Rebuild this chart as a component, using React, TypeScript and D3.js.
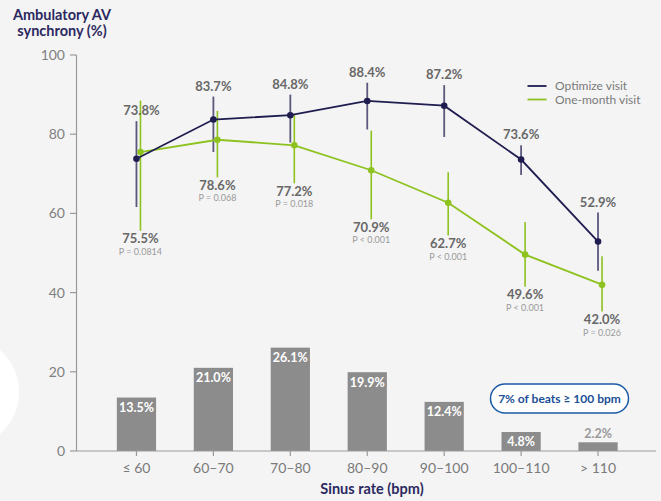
import * as d3 from 'd3'

const categories = ['≤ 60', '60–70', '70–80', '80–90', '90–100', '100–110', '> 110']
const optimize = [73.8, 83.7, 84.8, 88.4, 87.2, 73.6, 52.9]
const optimizeLow = [61.6, 75.5, 77.9, 81.2, 79.3, 69.7, 45.5]
const optimizeHigh = [83.3, 89.5, 90.0, 93.0, 92.4, 77.2, 60.2]
const oneMonth = [75.5, 78.6, 77.2, 70.9, 62.7, 49.6, 42.0]
const oneMonthLow = [55.6, 69.1, 67.6, 58.5, 54.4, 41.5, 35.2]
const oneMonthHigh = [88.5, 85.9, 85.1, 80.9, 70.4, 57.8, 49.2]
const pValues = ['P = 0.0814', 'P = 0.068', 'P = 0.018', 'P < 0.001', 'P < 0.001', 'P < 0.001', 'P = 0.026']
const beats = [13.5, 21.0, 26.1, 19.9, 12.4, 4.8, 2.2]
const yTicks = [0, 20, 40, 60, 80, 100]

const W = 661
const H = 501
const NAVY = '#1f1c4f'
const GREEN = '#8dc21f'
const FONT = 'Lato, "Noto Sans", sans-serif'

export default function App() {
  const axisLeft = 76.5
  const axisRight = 656

  const x = d3.scaleBand<string>()
    .domain(categories)
    .range([98, 636.5])
    .paddingInner(0.49)
    .paddingOuter(0.245)
  const y = d3.scaleLinear().domain([0, 100]).range([451, 55])

  const cx = (c: string) => (x(c) as number) + x.bandwidth() / 2
  const greenOff = 4

  const navyLine = d3.line<number>()
    .x((_, i) => cx(categories[i]))
    .y(d => y(d))
  const greenLine = d3.line<number>()
    .x((_, i) => cx(categories[i]) + greenOff)
    .y(d => y(d))

  return (
    <svg width={W} height={H} style={{ position: 'absolute', left: 0, top: 0, display: 'block' }}
      fontFamily={FONT}>
      <rect width={W} height={H} fill="#f4f4f4" />
      <circle cx={-37} cy={392} r={56} fill="#ffffff" />

      {/* titulo eixo y */}
      <text x={62} y={20} textAnchor="middle" fontSize={14.5} fontWeight={700} fill="#2b2960">Ambulatory AV</text>
      <text x={62} y={36} textAnchor="middle" fontSize={14.5} fontWeight={700} fill="#2b2960">synchrony (%)</text>

      {/* eixo y */}
      <line x1={axisLeft} x2={axisLeft} y1={y(100)} y2={y(0)} stroke="#9a9a9a" strokeWidth={1.2} />
      {yTicks.map(t => (
        <g key={t}>
          <line x1={70} x2={axisLeft} y1={y(t)} y2={y(t)} stroke="#9a9a9a" strokeWidth={1.2} />
          <text x={65} y={y(t)} dy="0.35em" textAnchor="end" fontSize={14} fill="#808080">{t}</text>
        </g>
      ))}

      {/* barras */}
      {beats.map((b, i) => {
        const c = categories[i]
        const top = y(b)
        const small = b < 3
        return (
          <g key={c}>
            <rect x={x(c)} y={top} width={x.bandwidth()} height={y(0) - top} fill="#8c8c8c" />
            <text x={cx(c)} y={small ? top - 4.5 : top + 14.5} textAnchor="middle" fontSize={12.5}
              fontWeight={700} fill={small ? '#9a9a9a' : '#ffffff'}>{b.toFixed(1)}%</text>
          </g>
        )
      })}

      {/* eixo x */}
      <line x1={axisLeft} x2={axisRight} y1={y(0)} y2={y(0)} stroke="#9a9a9a" strokeWidth={1.2} />
      {categories.map(c => (
        <g key={c}>
          <line x1={cx(c)} x2={cx(c)} y1={y(0)} y2={y(0) + 5} stroke="#9a9a9a" strokeWidth={1.2} />
          <text x={cx(c)} y={473} textAnchor="middle" fontSize={14} fill="#7a7a7a">{c}</text>
        </g>
      ))}
      <text x={372} y={494} textAnchor="middle" fontSize={14.5} fontWeight={700} fill="#2b2960">Sinus rate (bpm)</text>

      {/* barras de erro */}
      {categories.map((c, i) => (
        <g key={'err' + c}>
          <line x1={cx(c) + greenOff} x2={cx(c) + greenOff} y1={y(oneMonthHigh[i])} y2={y(oneMonthLow[i])}
            stroke={GREEN} strokeWidth={1.6} />
          <line x1={cx(c)} x2={cx(c)} y1={y(optimizeHigh[i])} y2={y(optimizeLow[i])}
            stroke={NAVY} strokeOpacity={0.72} strokeWidth={1.8} />
        </g>
      ))}

      {/* linhas */}
      <path d={greenLine(oneMonth) ?? ''} fill="none" stroke={GREEN} strokeWidth={1.8} />
      <path d={navyLine(optimize) ?? ''} fill="none" stroke={NAVY} strokeWidth={1.8} />
      {oneMonth.map((v, i) => (
        <circle key={'g' + i} cx={cx(categories[i]) + greenOff} cy={y(v)} r={3.3} fill={GREEN} />
      ))}
      {optimize.map((v, i) => (
        <circle key={'n' + i} cx={cx(categories[i])} cy={y(v)} r={3.3} fill={NAVY} />
      ))}

      {/* rótulos */}
      {optimize.map((v, i) => (
        <text key={'ln' + i} x={cx(categories[i]) + (i === 0 ? 5 : 0)} y={y(optimizeHigh[i]) - 6}
          textAnchor="middle" fontSize={13} fontWeight={700} fill="#686868">{v.toFixed(1)}%</text>
      ))}
      {oneMonth.map((v, i) => (
        <g key={'lg' + i}>
          <text x={cx(categories[i]) + greenOff} y={y(oneMonthLow[i]) + 12.5} textAnchor="middle"
            fontSize={13} fontWeight={700} fill="#686868">{v.toFixed(1)}%</text>
          <text x={cx(categories[i]) + greenOff} y={y(oneMonthLow[i]) + 24} textAnchor="middle"
            fontSize={9} fill="#9a9a9a">{pValues[i]}</text>
        </g>
      ))}

      {/* legenda */}
      <line x1={527.5} x2={546.5} y1={86} y2={86} stroke={NAVY} strokeWidth={1.8} />
      <text x={555} y={86} dy="0.35em" fontSize={12} fill="#7a7a7a">Optimize visit</text>
      <line x1={527.5} x2={546.5} y1={99.5} y2={99.5} stroke={GREEN} strokeWidth={1.8} />
      <text x={555} y={99.5} dy="0.35em" fontSize={12} fill="#7a7a7a">One-month visit</text>

      {/* destaque */}
      <rect x={490.5} y={384} width={138} height={29} rx={14.5} fill="#ffffff" stroke="#1b5aa5" strokeWidth={1.5} />
      <text x={559.5} y={403} textAnchor="middle" fontSize={12} fontWeight={700} fill="#1b4f96">7% of beats ≥ 100 bpm</text>
    </svg>
  )
}
